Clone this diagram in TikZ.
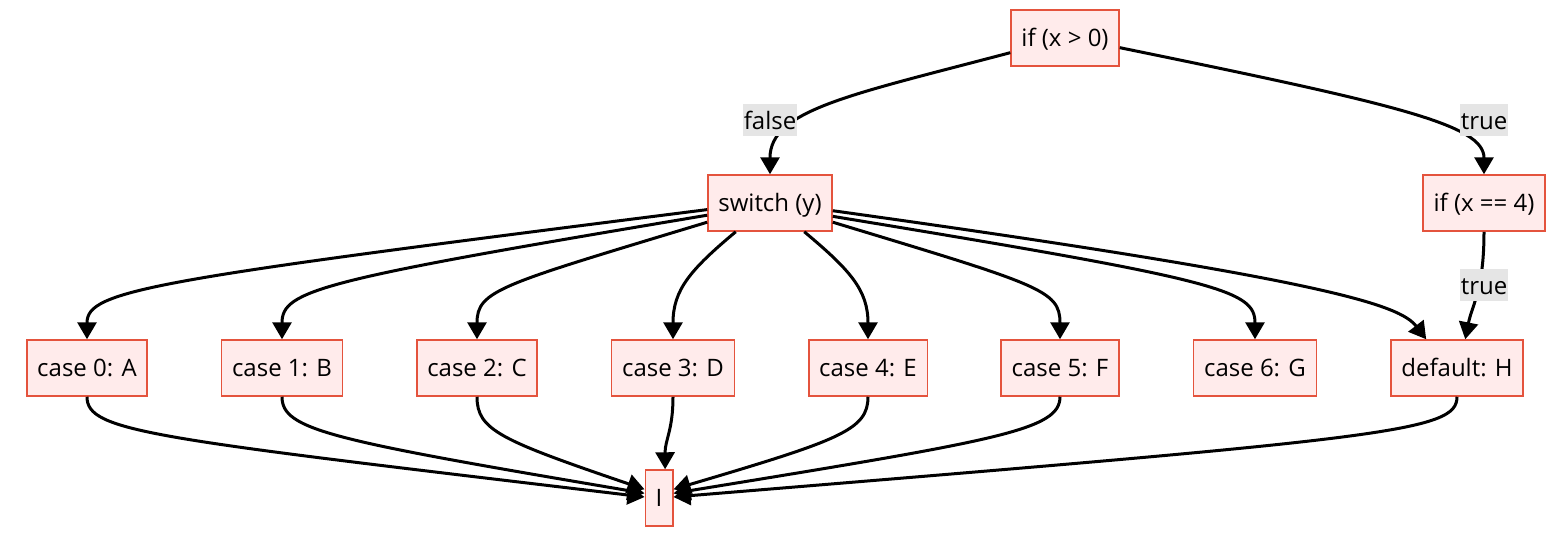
\documentclass[tikz,border=0pt]{standalone}
\usepackage{fontspec}
\setmainfont{Open Sans}
\definecolor{boxfill}{HTML}{FFEBEB}
\definecolor{boxline}{HTML}{E4533D}
\definecolor{lblgray}{HTML}{E5E5E5}
\usepackage{tikz}
\usetikzlibrary{arrows.meta}

\begin{document}
\begin{tikzpicture}[
        x=0.5pt, y=-0.5pt,
        font=\fontsize{12}{14}\selectfont,
        box/.style={rectangle, draw=boxline, fill=boxfill, line width=0.75pt,
                    minimum height=28pt, inner xsep=5.2pt,
                    text height=10.5pt, text depth=1.8pt},
        lbl/.style={fill=lblgray, inner xsep=0.5pt, inner ysep=2pt,
                    text height=10.7pt, text depth=1.6pt},
        arr/.style={-{Triangle[length=8.5pt, width=9.5pt]}, line width=1.5pt}
      ]
        \useasboundingbox (0,0) rectangle (1564,543);

        \node[box] (ifx) at (1065,38) {if (x > 0)};
        \node[box] (sw) at (770,203) {switch (y)};
        \node[box] (ifq) at (1484,203) {if (x == 4)};
        \node[box] (c0) at (87,368) {case 0: A};
        \node[box] (c1) at (282,368) {case 1: B};
        \node[box] (c2) at (477,368) {case 2: C};
        \node[box] (c3) at (673,368) {case 3: D};
        \node[box] (c4) at (868,368) {case 4: E};
        \node[box] (c5) at (1060,368) {case 5: F};
        \node[box] (c6) at (1255,368) {case 6: G};
        \node[box] (dh) at (1457,368) {default: H};
        \node[box] (ci) at (659,498) {I};

        % top branches
        \draw[arr] (ifx.195) .. controls (850,95) and (770,110) .. (sw.north);
        \draw[arr] (ifx.350) .. controls (1400,105) and (1484,125) .. (ifq.north);
        \draw[arr] (ifq.south) .. controls (1484,290) and (1472,305) .. (dh.74);

        % switch to cases
        \draw[arr] (sw.186) .. controls (150,280) and (87,290) .. (c0.north);
        \draw[arr] (sw.191) .. controls (320,280) and (282,290) .. (c1.north);
        \draw[arr] (sw.197) .. controls (500,285) and (477,290) .. (c2.north);
        \draw[arr] (sw.220) .. controls (690,270) and (673,290) .. (c3.north);
        \draw[arr] (sw.320) .. controls (850,270) and (868,290) .. (c4.north);
        \draw[arr] (sw.343) .. controls (1040,285) and (1060,290) .. (c5.north);
        \draw[arr] (sw.348) .. controls (1220,280) and (1255,290) .. (c6.north);
        \draw[arr] (sw.353) .. controls (1330,280) and (1400,305) .. (dh.137);

        % cases to I
        \draw[arr] (c0.south) .. controls (87,432) and (150,438) .. (ci.176);
        \draw[arr] (c1.south) .. controls (282,430) and (330,440) .. (ci.162);
        \draw[arr] (c2.south) .. controls (477,430) and (500,440) .. (ci.149);
        \draw[arr] (c3.south) .. controls (673,430) and (665,440) .. (ci.78);
        \draw[arr] (c4.south) .. controls (868,430) and (840,440) .. (ci.31);
        \draw[arr] (c5.south) .. controls (1060,430) and (1000,440) .. (ci.18);
        \draw[arr] (dh.south) .. controls (1457,432) and (1390,438) .. (ci.4);

        \node[lbl] (lf) at (770,120) {false};
        \node[lbl] (lt1) at (1484,120) {true};
        \node[lbl] (lt2) at (1484,285) {true};
      \end{tikzpicture}
\end{document}
